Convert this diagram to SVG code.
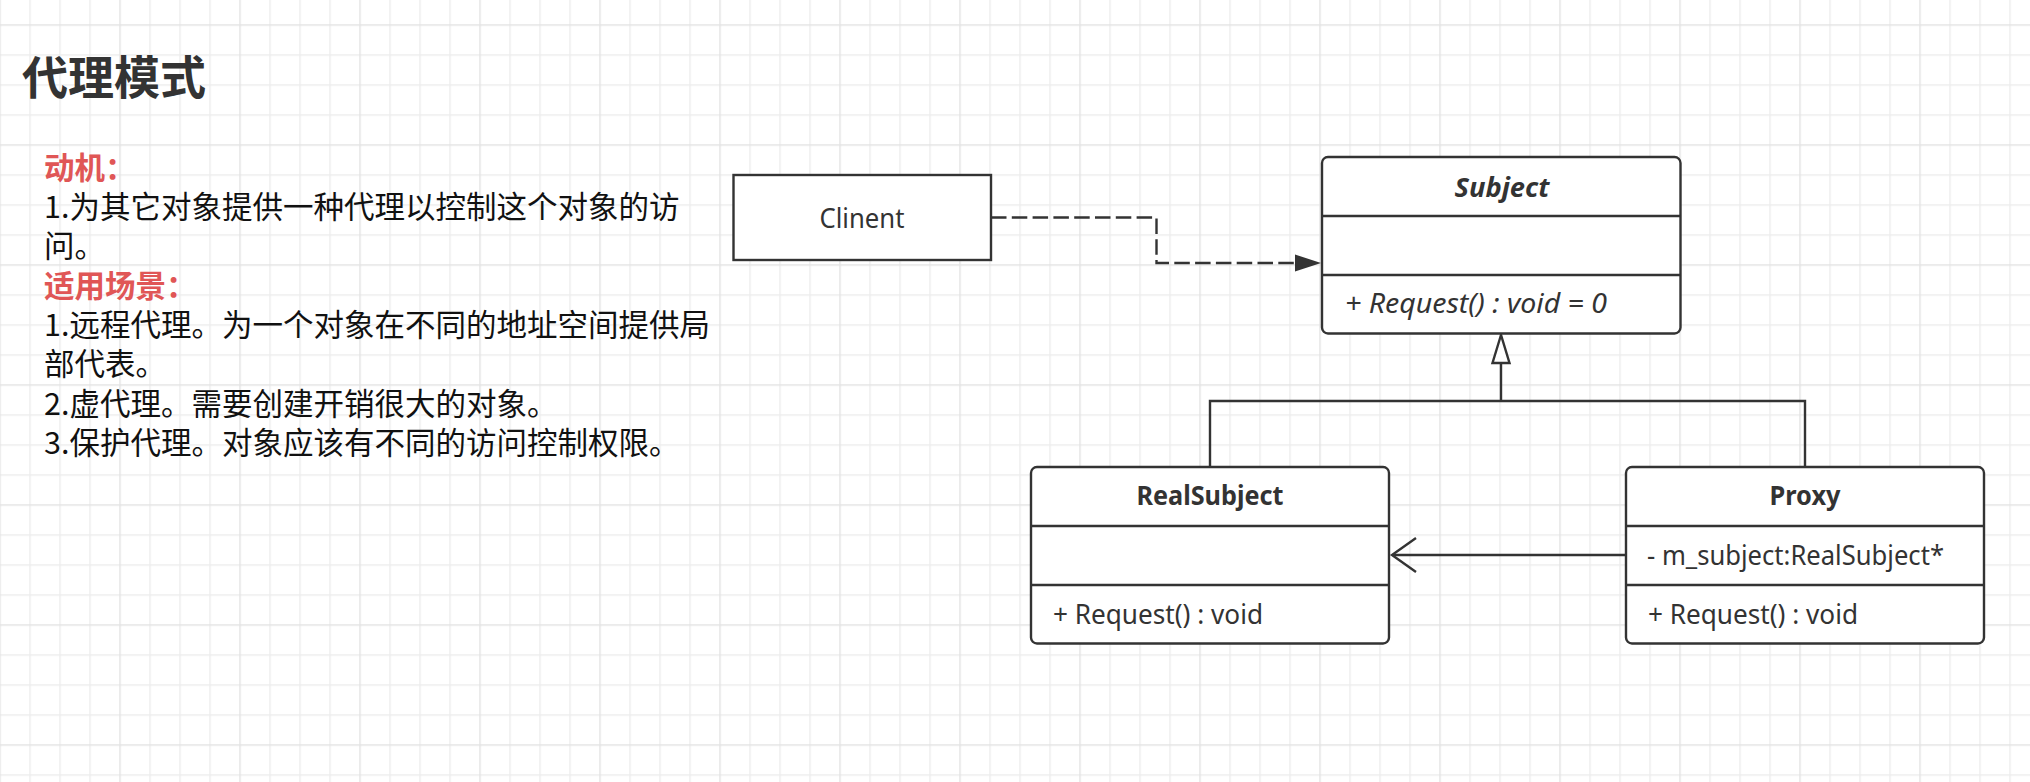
<svg xmlns="http://www.w3.org/2000/svg" width="2030" height="782" viewBox="0 0 2030 782">
  <defs>
    <pattern id="grid" x="-0.75" y="24.25" width="120" height="120" patternUnits="userSpaceOnUse">
      <rect x="0" y="0" width="120" height="120" fill="#ffffff"/>
      <g fill="#ededed">
        <rect x="30" y="0" width="1.5" height="120"/>
        <rect x="60" y="0" width="1.5" height="120"/>
        <rect x="90" y="0" width="1.5" height="120"/>
        <rect x="0" y="30" width="120" height="1.5"/>
        <rect x="0" y="60" width="120" height="1.5"/>
        <rect x="0" y="90" width="120" height="1.5"/>
      </g>
      <g fill="#e4e4e4">
        <rect x="0" y="0" width="1.5" height="120"/>
        <rect x="0" y="0" width="120" height="1.5"/>
      </g>
    </pattern>
    <style>
      .box { fill: #ffffff; stroke: #333333; stroke-width: 2.4; }
      .div { stroke: #333333; stroke-width: 2.4; }
      .lbl { font-family: "Noto Sans", "Open Sans", "Liberation Sans", sans-serif; font-size: 26.5px; fill: #333333; }
      .ttl { font-weight: bold; text-anchor: middle; }
      .cjk { font-family: "Noto Sans CJK SC", "Noto Sans", sans-serif; font-size: 30.5px; fill: #111111; }
      .red { fill: #e05656; font-weight: bold; }
      .conn { fill: none; stroke: #333333; stroke-width: 2.4; }
    </style>
  </defs>

  <rect x="0" y="0" width="2030" height="782" fill="url(#grid)"/>

  <g id="title">
    <text x="22" y="94" font-family="'Noto Sans CJK SC', sans-serif" font-size="46" font-weight="bold" fill="#333333">代理模式</text>
  </g>

  <g id="notes">
    <text x="44" y="179" class="cjk red">动机：</text>
    <text x="44" y="218" class="cjk">1.为其它对象提供一种代理以控制这个对象的访</text>
    <text x="44" y="257" class="cjk">问。</text>
    <text x="44" y="297" class="cjk red">适用场景：</text>
    <text x="44" y="336" class="cjk">1.远程代理。为一个对象在不同的地址空间提供局</text>
    <text x="44" y="375" class="cjk">部代表。</text>
    <text x="44" y="415" class="cjk">2.虚代理。需要创建开销很大的对象。</text>
    <text x="44" y="454" class="cjk">3.保护代理。对象应该有不同的访问控制权限。</text>
  </g>

  <g id="connectors">
    <path class="conn" d="M991,217.5 H1156.5 V263 H1297" stroke-dasharray="15.5 5.3" stroke-width="2.8"/>
    <polygon points="1321,263 1295,254.5 1295,271.5" fill="#333333"/>
    <path class="conn" d="M1501,363 V401 M1210,467 V401 H1805 V467"/>
    <polygon points="1501,335 1492.5,363 1509.5,363" fill="#ffffff" stroke="#333333" stroke-width="2.4" stroke-linejoin="miter"/>
    <path class="conn" d="M1625,555 H1393"/>
    <polyline class="conn" points="1416,538 1392,555 1416,572"/>
  </g>

  <g id="client">
    <rect class="box" x="733.5" y="175" width="257.5" height="85" stroke-width="2.8"/>
    <text class="lbl" x="862" y="228" text-anchor="middle" textLength="85" lengthAdjust="spacingAndGlyphs">Clinent</text>
  </g>

  <g id="subject">
    <rect class="box" x="1322" y="157" width="358.5" height="176.5" rx="6"/>
    <line class="div" x1="1322" y1="216" x2="1680.5" y2="216"/>
    <line class="div" x1="1322" y1="275" x2="1680.5" y2="275"/>
    <text class="lbl ttl" x="1502" y="197" font-style="italic" textLength="95" lengthAdjust="spacingAndGlyphs">Subject</text>
    <text class="lbl" x="1345" y="313" font-style="italic" textLength="262" lengthAdjust="spacingAndGlyphs">+ Request() : void = 0</text>
  </g>

  <g id="realsubject">
    <rect class="box" x="1031" y="467" width="358" height="176.5" rx="6"/>
    <line class="div" x1="1031" y1="526" x2="1389" y2="526"/>
    <line class="div" x1="1031" y1="585" x2="1389" y2="585"/>
    <text class="lbl ttl" x="1210" y="505" textLength="147" lengthAdjust="spacingAndGlyphs">RealSubject</text>
    <text class="lbl" x="1053" y="624" textLength="210" lengthAdjust="spacingAndGlyphs">+ Request() : void</text>
  </g>

  <g id="proxy">
    <rect class="box" x="1626" y="467" width="358" height="176.5" rx="6"/>
    <line class="div" x1="1626" y1="526" x2="1984" y2="526"/>
    <line class="div" x1="1626" y1="585" x2="1984" y2="585"/>
    <text class="lbl ttl" x="1805" y="505" textLength="71" lengthAdjust="spacingAndGlyphs">Proxy</text>
    <text class="lbl" x="1647" y="565" textLength="297" lengthAdjust="spacingAndGlyphs">- m_subject:RealSubject*</text>
    <text class="lbl" x="1648" y="624" textLength="210" lengthAdjust="spacingAndGlyphs">+ Request() : void</text>
  </g>
</svg>
